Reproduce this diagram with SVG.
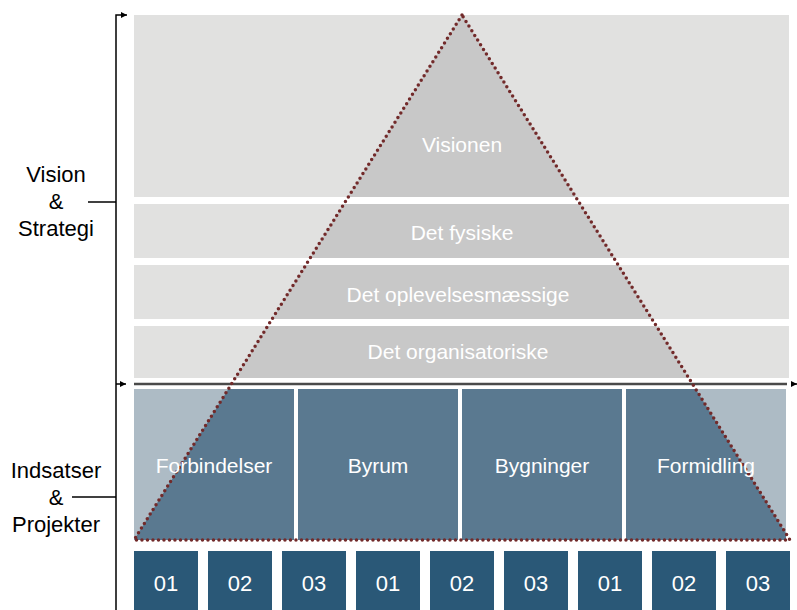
<svg xmlns="http://www.w3.org/2000/svg" width="797" height="610" viewBox="0 0 797 610">
<style>
.lg{fill:#e1e1e0}
.dg{fill:#c8c8c8}
.lb{fill:#adbbc5}
.db{fill:#5a7990}
.nb{fill:#2a5877}
.w{font-family:"Liberation Sans",Arial,sans-serif;fill:#ffffff;text-anchor:middle}
.k{font-family:"Liberation Sans",Arial,sans-serif;fill:#000000;text-anchor:middle;font-size:22px}
.ln{stroke:#000;stroke-width:1.5;fill:none}
</style>
<defs>
<clipPath id="tri"><polygon points="462,15 134,540 790,540"/></clipPath>
<marker id="ah" viewBox="0 0 10 10" refX="10" refY="5" markerWidth="4" markerHeight="4" orient="auto" markerUnits="strokeWidth"><path d="M0,0 L10,5 L0,10 z" fill="#000"/></marker>
</defs>
<g id="bands-light">
<rect class="lg" x="134" y="15" width="655" height="182"/>
<rect class="lg" x="134" y="204" width="655" height="54"/>
<rect class="lg" x="134" y="265" width="655" height="54"/>
<rect class="lg" x="134" y="326" width="655" height="52"/>
<rect class="lb" x="134" y="389" width="160" height="151"/>
<rect class="lb" x="298" y="389" width="160" height="151"/>
<rect class="lb" x="462" y="389" width="160" height="151"/>
<rect class="lb" x="626" y="389" width="160" height="151"/>
</g>
<g id="bands-dark" clip-path="url(#tri)">
<rect class="dg" x="134" y="15" width="655" height="182"/>
<rect class="dg" x="134" y="204" width="655" height="54"/>
<rect class="dg" x="134" y="265" width="655" height="54"/>
<rect class="dg" x="134" y="326" width="655" height="52"/>
<rect class="db" x="134" y="389" width="160" height="151"/>
<rect class="db" x="298" y="389" width="160" height="151"/>
<rect class="db" x="462" y="389" width="160" height="151"/>
<rect class="db" x="626" y="389" width="160" height="151"/>
</g>
<g id="divider"><line x1="134" y1="384" x2="787" y2="384" stroke="#4a4a4a" stroke-width="2.5"/></g>
<g id="pyramid"><polygon points="462,15 134,540 790,540" fill="none" stroke="#722a2a" stroke-width="3.5" stroke-linecap="round" stroke-dasharray="0 5.5"/></g>
<g id="labels-pyramid">
<text class="w" x="462" y="152" font-size="21">Visionen</text>
<text class="w" x="462" y="240" font-size="21">Det fysiske</text>
<text class="w" x="458" y="302" font-size="21">Det oplevelsesmæssige</text>
<text class="w" x="458" y="359" font-size="21">Det organisatoriske</text>
<text class="w" x="214" y="473" font-size="21">Forbindelser</text>
<text class="w" x="378" y="473" font-size="21">Byrum</text>
<text class="w" x="542" y="473" font-size="21">Bygninger</text>
<text class="w" x="706" y="473" font-size="21">Formidling</text>
</g>
<g id="projects">
<rect class="nb" x="134" y="551" width="64" height="59"/><text class="w" x="166" y="591" font-size="22">01</text>
<rect class="nb" x="208" y="551" width="64" height="59"/><text class="w" x="240" y="591" font-size="22">02</text>
<rect class="nb" x="282" y="551" width="64" height="59"/><text class="w" x="314" y="591" font-size="22">03</text>
<rect class="nb" x="356" y="551" width="64" height="59"/><text class="w" x="388" y="591" font-size="22">01</text>
<rect class="nb" x="430" y="551" width="64" height="59"/><text class="w" x="462" y="591" font-size="22">02</text>
<rect class="nb" x="504" y="551" width="64" height="59"/><text class="w" x="536" y="591" font-size="22">03</text>
<rect class="nb" x="578" y="551" width="64" height="59"/><text class="w" x="610" y="591" font-size="22">01</text>
<rect class="nb" x="652" y="551" width="64" height="59"/><text class="w" x="684" y="591" font-size="22">02</text>
<rect class="nb" x="726" y="551" width="64" height="59"/><text class="w" x="758" y="591" font-size="22">03</text>
</g>
<g id="connectors">
<path class="ln" d="M116,610 L116,15 L127,15" marker-end="url(#ah)"/>
<path class="ln" d="M116,384 L126,384" marker-end="url(#ah)"/>
<path class="ln" d="M88,202 L116,202"/>
<path class="ln" d="M72,497 L116,497"/>
<path class="ln" d="M792,384 L797,384" marker-end="url(#ah)"/>
</g>
<g id="side-labels">
<text class="k" x="56" y="182">Vision</text>
<text class="k" x="56" y="209">&amp;</text>
<text class="k" x="56" y="236">Strategi</text>
<text class="k" x="56" y="478">Indsatser</text>
<text class="k" x="56" y="505">&amp;</text>
<text class="k" x="56" y="532">Projekter</text>
</g>
</svg>
